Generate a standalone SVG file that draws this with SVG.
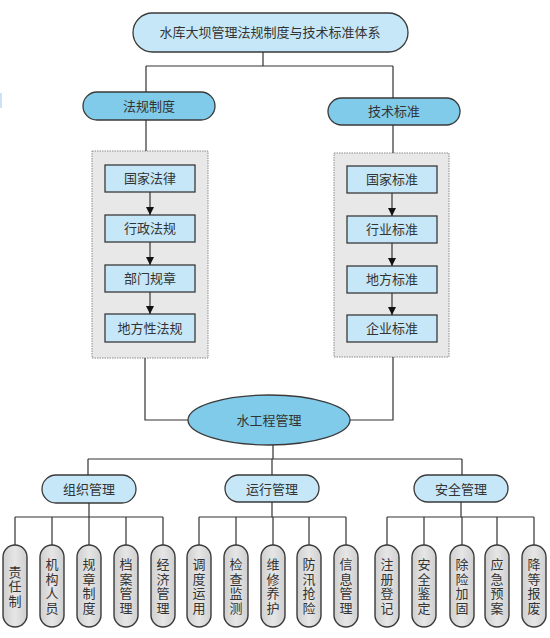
<svg xmlns="http://www.w3.org/2000/svg" width="550" height="638" viewBox="0 0 550 638">
<defs>
<style>
text{font-family:"Noto Sans CJK SC","Noto Sans",sans-serif;font-size:13px;fill:#333;text-anchor:middle}
.v{writing-mode:vertical-rl;letter-spacing:1.5px}
.lb{fill:#C6E7F7;stroke:#3a3a3a;stroke-width:1.3}
.mb{fill:#80CBEA;stroke:#3a3a3a;stroke-width:1.3}
.gb{fill:#E8E8E8;stroke:#8a8a8a;stroke-width:1;stroke-dasharray:1.5,1}
.ch{fill:url(#gg);stroke:#3a3a3a;stroke-width:1.4}
.ln{fill:none;stroke:#333;stroke-width:1.2}
</style>
<linearGradient id="gg" x1="0" y1="0" x2="1" y2="0">
<stop offset="0" stop-color="#cfcfcf"/>
<stop offset="0.5" stop-color="#e6e6e6"/>
<stop offset="1" stop-color="#cfcfcf"/>
</linearGradient>
<marker id="ah" viewBox="0 0 10 10" refX="10" refY="5" markerWidth="8" markerHeight="8" markerUnits="userSpaceOnUse" orient="auto">
<path d="M0,0 L10,5 L0,10 z" fill="#111"/>
</marker>
</defs>
<rect x="0" y="93" width="2" height="15" fill="#cfe2f5"/>
<g id="root"><rect class="lb" x="133" y="13" width="275" height="39" rx="19.5"/><text x="270" y="37">水库大坝管理法规制度与技术标准体系</text></g>
<g id="fagui"><rect class="mb" x="83" y="92" width="132" height="28" rx="14"/><text x="149" y="111">法规制度</text></g>
<g id="jishu"><rect class="mb" x="328" y="98" width="132" height="27" rx="13.5"/><text x="394" y="116">技术标准</text></g>
<g id="leftbox"><rect class="gb" x="92" y="151" width="116" height="207"/></g>
<g id="rightbox"><rect class="gb" x="334" y="153" width="115" height="204"/></g>
<g id="gjfl"><rect class="lb" x="105" y="165" width="90" height="27"/><text x="150" y="183">国家法律</text></g>
<g id="xzfg"><rect class="lb" x="105" y="215" width="90" height="27"/><text x="150" y="233">行政法规</text></g>
<g id="bmgz"><rect class="lb" x="105" y="265" width="90" height="27"/><text x="150" y="283">部门规章</text></g>
<g id="dfxfg"><rect class="lb" x="105" y="314" width="90" height="28"/><text x="150" y="332.5">地方性法规</text></g>
<g id="gjbz"><rect class="lb" x="347" y="166" width="90" height="27"/><text x="392" y="184">国家标准</text></g>
<g id="hybz"><rect class="lb" x="347" y="216" width="90" height="27"/><text x="392" y="234">行业标准</text></g>
<g id="dfbz"><rect class="lb" x="347" y="266" width="90" height="27"/><text x="392" y="284">地方标准</text></g>
<g id="qybz"><rect class="lb" x="347" y="315" width="90" height="27"/><text x="392" y="333">企业标准</text></g>
<g id="sgcgl"><ellipse class="mb" cx="269" cy="420" rx="81" ry="25"/><text x="269" y="425">水工程管理</text></g>
<g id="zzgl"><rect class="lb" x="42" y="475" width="94" height="28" rx="14"/><text x="89" y="494">组织管理</text></g>
<g id="yxgl"><rect class="lb" x="225" y="475" width="94" height="27" rx="13.5"/><text x="272" y="493.5">运行管理</text></g>
<g id="aqgl"><rect class="lb" x="414" y="475" width="94" height="27" rx="13.5"/><text x="461" y="493.5">安全管理</text></g>
<g id="c1"><rect class="ch" x="3" y="545" width="24" height="82" rx="12"/><text class="v" x="15" y="587">责任制</text></g>
<g id="c2"><rect class="ch" x="40" y="545" width="24" height="82" rx="12"/><text class="v" x="52" y="587">机构人员</text></g>
<g id="c3"><rect class="ch" x="77" y="545" width="24" height="82" rx="12"/><text class="v" x="89" y="587">规章制度</text></g>
<g id="c4"><rect class="ch" x="114" y="545" width="24" height="82" rx="12"/><text class="v" x="126" y="587">档案管理</text></g>
<g id="c5"><rect class="ch" x="151" y="545" width="24" height="82" rx="12"/><text class="v" x="163" y="587">经济管理</text></g>
<g id="c6"><rect class="ch" x="187" y="545" width="24" height="82" rx="12"/><text class="v" x="199" y="587">调度运用</text></g>
<g id="c7"><rect class="ch" x="224" y="545" width="24" height="82" rx="12"/><text class="v" x="236" y="587">检查监测</text></g>
<g id="c8"><rect class="ch" x="261" y="545" width="24" height="82" rx="12"/><text class="v" x="273" y="587">维修养护</text></g>
<g id="c9"><rect class="ch" x="297" y="545" width="24" height="82" rx="12"/><text class="v" x="309" y="587">防汛抢险</text></g>
<g id="c10"><rect class="ch" x="334" y="545" width="24" height="82" rx="12"/><text class="v" x="346" y="587">信息管理</text></g>
<g id="c11"><rect class="ch" x="375" y="545" width="24" height="82" rx="12"/><text class="v" x="387" y="587">注册登记</text></g>
<g id="c12"><rect class="ch" x="412" y="545" width="24" height="82" rx="12"/><text class="v" x="424" y="587">安全鉴定</text></g>
<g id="c13"><rect class="ch" x="450" y="545" width="24" height="82" rx="12"/><text class="v" x="462" y="587">除险加固</text></g>
<g id="c14"><rect class="ch" x="485" y="545" width="24" height="82" rx="12"/><text class="v" x="497" y="587">应急预案</text></g>
<g id="c15"><rect class="ch" x="522" y="545" width="24" height="82" rx="12"/><text class="v" x="534" y="587">降等报废</text></g>
<g id="connectors">
<path class="ln" d="M263,52 V66 M146,66 H393 M146,66 V92 M393,66 V98"/>
<path class="ln" d="M146,120 V151 M393,125 V153"/>
<line class="ln" x1="150" y1="192" x2="150" y2="215" marker-end="url(#ah)"/>
<line class="ln" x1="150" y1="242" x2="150" y2="265" marker-end="url(#ah)"/>
<line class="ln" x1="150" y1="292" x2="150" y2="314" marker-end="url(#ah)"/>
<line class="ln" x1="392" y1="193" x2="392" y2="216" marker-end="url(#ah)"/>
<line class="ln" x1="392" y1="243" x2="392" y2="266" marker-end="url(#ah)"/>
<line class="ln" x1="392" y1="293" x2="392" y2="315" marker-end="url(#ah)"/>
<path class="ln" d="M145,358 V420 H188 M393,357 V420 H350"/>
<path class="ln" d="M273,445 V459 M88,459 H462 M88,459 V475 M272,459 V475 M462,459 V475"/>
<path class="ln" d="M89,503 V517 M15,517 H163 M15,517 V545 M52,517 V545 M89,517 V545 M126,517 V545 M163,517 V545"/>
<path class="ln" d="M272,502 V517 M199,517 H346 M199,517 V545 M236,517 V545 M273,517 V545 M309,517 V545 M346,517 V545"/>
<path class="ln" d="M461,502 V517 M387,517 H534 M387,517 V545 M424,517 V545 M462,517 V545 M497,517 V545 M534,517 V545"/>
</g>
</svg>
